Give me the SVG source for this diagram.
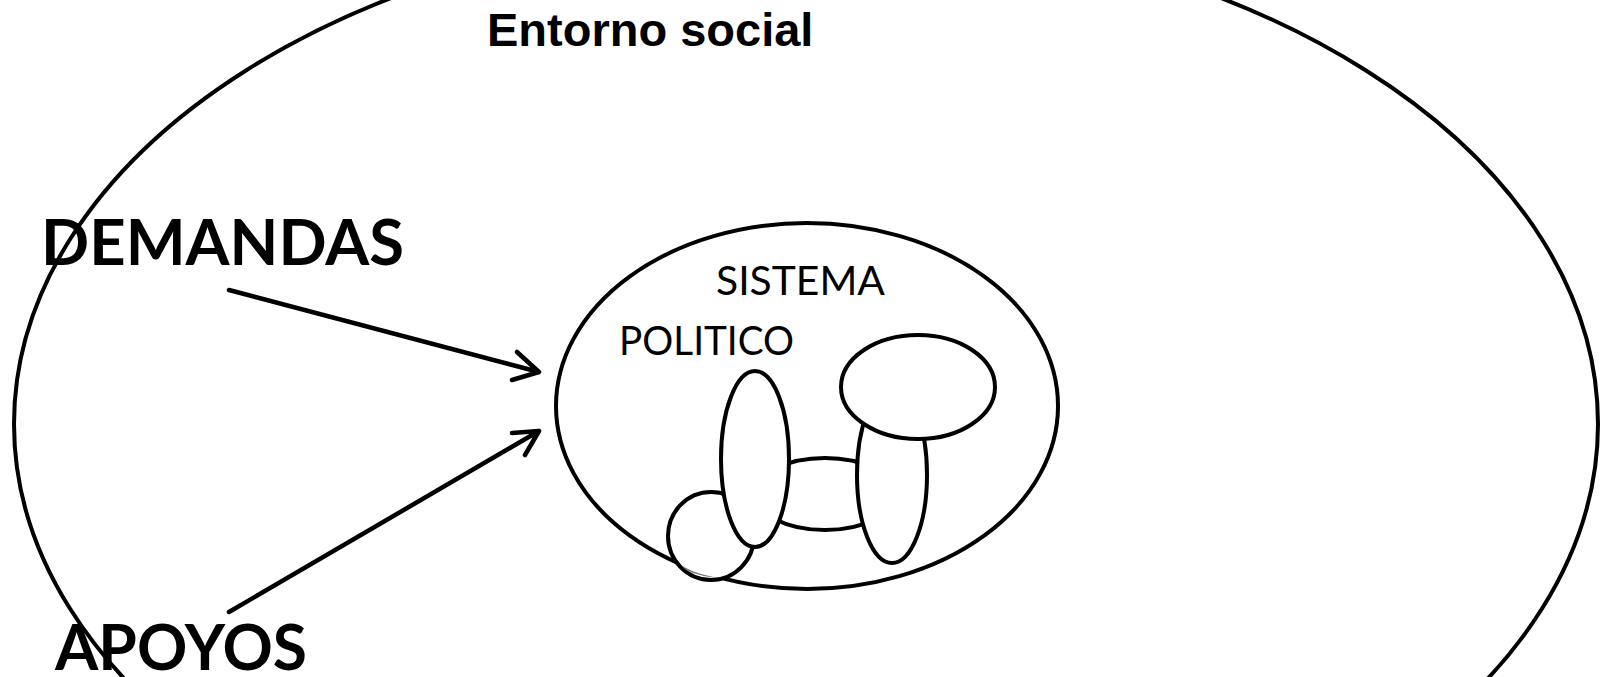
<svg xmlns="http://www.w3.org/2000/svg" width="1600" height="677" viewBox="0 0 1600 677">
<style>
.ln{fill:none;stroke:#000;stroke-width:4}
.sh{fill:#fff;stroke:#000;stroke-width:4}
.ar{fill:none;stroke:#000;stroke-width:4.5;stroke-linecap:round;stroke-linejoin:round}
.ttl{font-family:"Liberation Sans",Arial,sans-serif;font-weight:bold;fill:#000}
.big{font-family:Lato,"Open Sans","Liberation Sans",sans-serif;font-weight:bold;fill:#000}
.reg{font-family:Lato,"Open Sans","Liberation Sans",sans-serif;fill:#000}
</style>
<rect width="1600" height="677" fill="#fff"/>
<g id="entorno">
<ellipse class="ln" cx="806" cy="424" rx="792" ry="500"/>
<text class="ttl" x="487" y="46" font-size="47">Entorno social</text>
</g>
<g id="sistema">
<ellipse class="sh" cx="807" cy="406" rx="251" ry="183"/>
<text class="reg" x="716" y="295" font-size="40" textLength="169" lengthAdjust="spacingAndGlyphs">SISTEMA</text>
<text class="reg" x="619" y="355" font-size="40" textLength="175" lengthAdjust="spacingAndGlyphs">POLITICO</text>
</g>
<g id="componentes">
<ellipse class="sh" cx="711" cy="536" rx="43" ry="44"/>
<path d="M682 566 Q700 576 722 578 Q700 577 686 570 Z" fill="#777"/>
<ellipse class="sh" cx="825" cy="494" rx="70" ry="36"/>
<ellipse class="sh" cx="755" cy="459" rx="34" ry="88"/>
<ellipse class="sh" cx="892" cy="475" rx="35" ry="88"/>
<ellipse class="sh" cx="918" cy="387" rx="77" ry="52"/>
</g>
<g id="demandas">
<text class="big" x="41" y="265" font-size="63" textLength="363" lengthAdjust="spacingAndGlyphs">DEMANDAS</text>
</g>
<g id="apoyos">
<text class="big" x="55" y="670" font-size="63" textLength="252" lengthAdjust="spacingAndGlyphs">APOYOS</text>
</g>
<g id="connectors">
<path class="ar" d="M229 290 L539 372 M517 352 L539 372 L512 380"/>
<path class="ar" d="M229 612 L539 431 M512 433 L539 431 L525 455"/>
</g>
</svg>
